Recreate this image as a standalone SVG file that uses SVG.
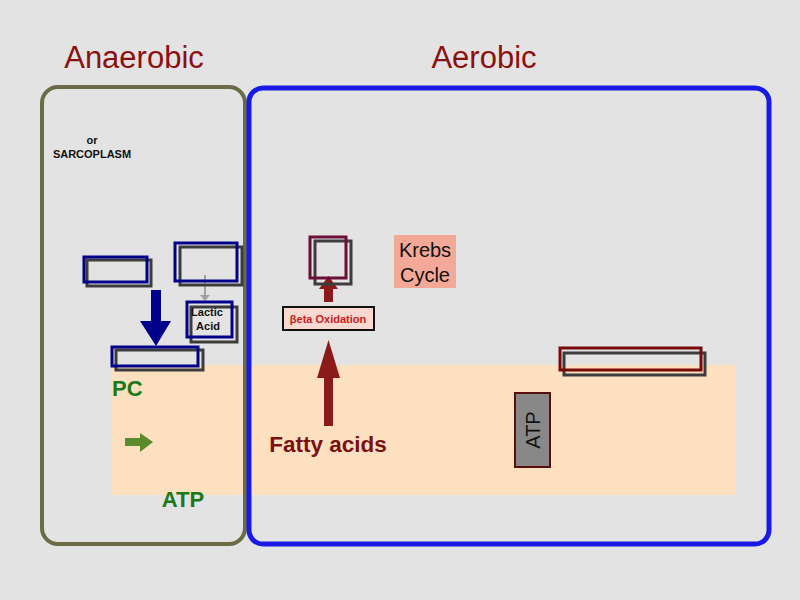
<svg xmlns="http://www.w3.org/2000/svg" width="800" height="600" viewBox="0 0 800 600">
<style>
.t{font-family:"Liberation Sans",Arial,sans-serif}
.bx{fill:none;stroke:#00008b;stroke-width:3}
.sh{fill:none;stroke:#3c3c3c;stroke-width:3}
.mr{fill:none;stroke:#7a0a0a;stroke-width:3}
</style>
<rect width="800" height="600" fill="#e3e3e3"/>
<rect id="atp-zone" x="112" y="365" width="624" height="130" fill="#fde0bf"/>
<g id="frames">
<rect id="anaerobic-frame" x="42" y="87" width="203" height="457" rx="16" fill="none" stroke="#6b6b45" stroke-width="4"/>
<rect id="aerobic-frame" x="249" y="88" width="520" height="456" rx="14" fill="none" stroke="#1a1ae6" stroke-width="5"/>
</g>
<g id="titles">
<text class="t" x="134" y="68" font-size="31" fill="#8b1010" text-anchor="middle">Anaerobic</text>
<text class="t" x="484" y="68" font-size="31" fill="#8b1010" text-anchor="middle">Aerobic</text>
<text class="t" x="92" y="144" font-size="11" font-weight="bold" fill="#111" text-anchor="middle">or</text>
<text class="t" x="92" y="158" font-size="11" font-weight="bold" fill="#111" text-anchor="middle">SARCOPLASM</text>
</g>
<g id="connectors">
<line x1="205" y1="275" x2="205" y2="296" stroke="#a0a0a0" stroke-width="2"/>
<polygon points="200,295 210,295 205,301" fill="#a0a0a0"/>
<polygon points="151,290 161,290 161,321 171,321 156,346 140,321 151,321" fill="#00008b"/>
<polygon points="125,438 140,438 140,433 153,442 140,452 140,446 125,446" fill="#5a8a2a"/>
<polygon points="324,302 333,302 333,289 338,289 328.5,276 319,289 324,289" fill="#8b1a1a"/>
<polygon points="324,426 333,426 333,378 340,378 328.5,340 317,378 324,378" fill="#8b1a1a"/>
</g>
<g id="box1"><rect class="sh" x="87" y="260" width="64" height="26"/><rect class="bx" x="84" y="257" width="63" height="25"/></g>
<g id="box2"><rect class="sh" x="180" y="247" width="62" height="38"/><rect class="bx" x="175" y="243" width="62" height="38"/></g>
<g id="lactic"><rect class="sh" x="191" y="307" width="46" height="35"/><rect class="bx" x="187" y="302" width="45" height="35"/>
<text class="t" x="207" y="316" font-size="11" font-weight="bold" fill="#111" text-anchor="middle">Lactic</text>
<text class="t" x="208" y="330" font-size="11" font-weight="bold" fill="#111" text-anchor="middle">Acid</text></g>
<g id="box3"><rect class="sh" x="116" y="350" width="87" height="20"/><rect class="bx" x="112" y="347" width="86" height="19"/></g>
<g id="pc"><text class="t" x="112" y="396" font-size="22" font-weight="bold" fill="#1a7a1a">PC</text></g>
<g id="atp-left"><text class="t" x="183" y="507" font-size="22" font-weight="bold" fill="#1a7a1a" text-anchor="middle">ATP</text></g>
<g id="box4"><rect class="sh" x="315" y="241" width="36" height="43"/><rect x="310" y="237" width="36" height="41" fill="none" stroke="#6b0f3a" stroke-width="3"/></g>
<g id="beta"><rect x="283" y="307" width="91" height="23" fill="#f8d8d0" stroke="#111" stroke-width="2"/>
<text class="t" x="328" y="322.5" font-size="11" font-weight="bold" fill="#cc2020" text-anchor="middle">βeta Oxidation</text></g>
<g id="krebs"><rect x="394" y="235" width="62" height="53" fill="#f4a898"/>
<text class="t" x="425" y="257" font-size="20" fill="#111" text-anchor="middle">Krebs</text>
<text class="t" x="425" y="282" font-size="20" fill="#111" text-anchor="middle">Cycle</text></g>
<g id="fatty"><text class="t" x="328" y="452" font-size="22.5" font-weight="bold" fill="#7a1010" text-anchor="middle">Fatty acids</text></g>
<g id="atp-right"><rect x="515" y="393" width="35" height="74" fill="#888" stroke="#5a0f0f" stroke-width="2"/>
<text class="t" x="0" y="0" font-size="20" fill="#111" text-anchor="middle" transform="translate(539.5,430) rotate(-90)">ATP</text></g>
<g id="box5"><rect class="sh" x="564" y="353" width="141" height="22"/><rect class="mr" x="560" y="348" width="141" height="22"/></g>
</svg>
